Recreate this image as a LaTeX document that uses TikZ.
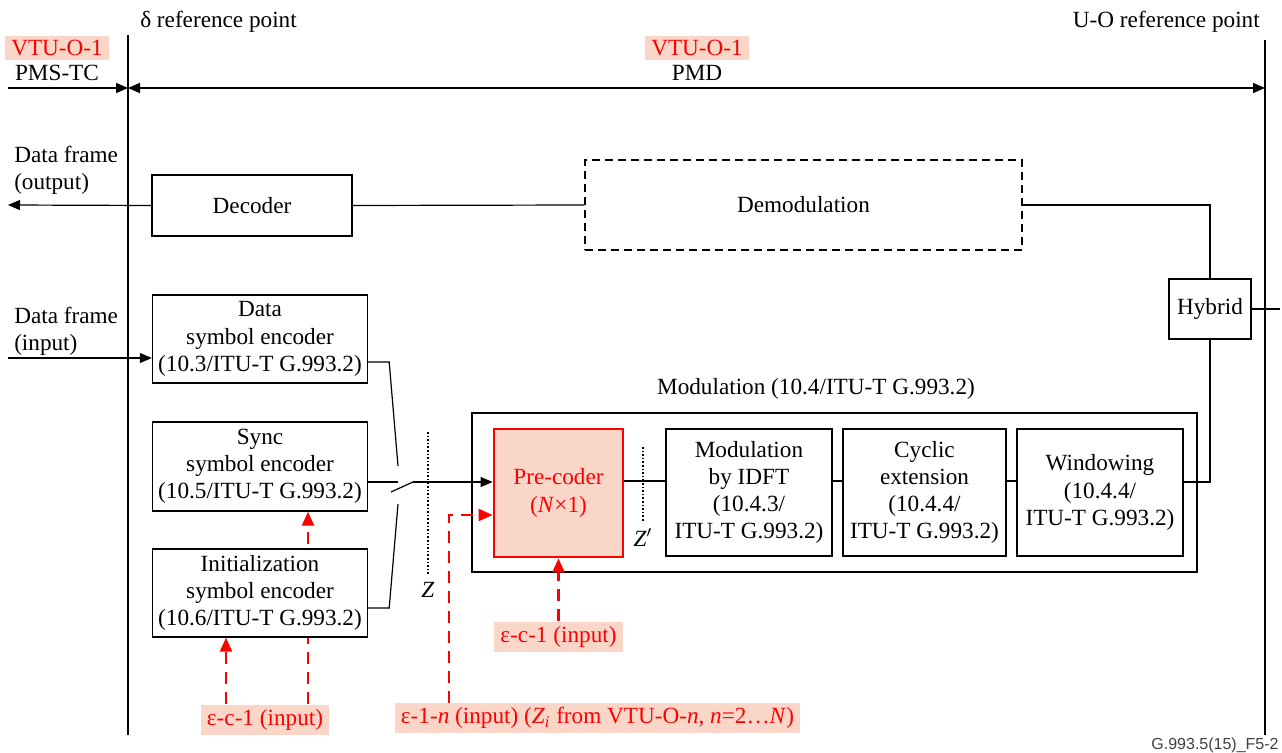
\documentclass[tikz,border=0pt]{standalone}
\usepackage{fontspec}
\setmainfont{Liberation Serif}
\newfontfamily\tagfont{Liberation Sans}
\usetikzlibrary{arrows.meta,positioning}
\pgfdeclarelayer{bg}
\pgfsetlayers{bg,main}
\definecolor{vtured}{RGB}{255,0,0}
\definecolor{vtupink}{RGB}{249,214,200}

\tikzset{
  blk/.style={draw,line width=0.7pt,fill=white,align=center,inner sep=0pt},
  redtag/.style={fill=vtupink,text=vtured,inner xsep=3pt,inner ysep=2.2pt},
  redarrow/.style={draw=vtured,line width=1.2pt,dash pattern=on 6pt off 4pt,
    -{Triangle[length=7pt,width=6pt]}},
  zline/.style={densely dotted,line width=0.8pt},
}

\begin{document}
\begin{tikzpicture}[x=0.5pt,y=-0.5pt,line width=0.6pt,
    font=\fontsize{11.6}{13.6}\selectfont,
    >={Triangle[length=6pt,width=5pt]}]
  \useasboundingbox (0,0) rectangle (1282,753);

  % reference points
  \coordinate (dtop) at (128,35);
  \coordinate (dbot) at (128,735);
  \coordinate (utop) at (1265,40);
  \coordinate (ubot) at (1265,735);
  \draw (dtop) -- (dbot);
  \draw (utop) -- (ubot);
  \node[anchor=west] (dref) at (133,22) {δ reference point};
  \node[anchor=east] (uref) at (1267,22) {U-O reference point};

  \node[redtag] (tctag) at (57,48) {VTU-O-1};
  \node (pmstc) at (57,73) {PMS-TC};
  \node[redtag] (pmdtag) at (697,48) {VTU-O-1};
  \node (pmd) at (697,73) {PMD};
  \coordinate (tl) at (8,88);
  \draw[->,line width=0.8pt] (tl) -- (dtop |- tl);
  \draw[<->,line width=0.8pt] (dtop |- tl) -- (utop |- tl);

  % receive path
  \node[blk,minimum width=100pt,minimum height=30.5pt] (dec) at (252,205.5) {Decoder};
  \node[blk,dash pattern=on 4pt off 2.5pt,minimum width=218.5pt,minimum height=45pt]
    (demod) at (803.5,205) {Demodulation};
  \node[blk,minimum width=41pt,minimum height=30pt] (hyb) at (1210,309) {Hybrid};
  \node[anchor=west,align=left] (outlbl) at (7,170.5) {Data frame\\(output)};
  \coordinate (outend) at (8,205);
  \draw[->] (dec.west) -- (outend);
  \draw (dec.east) -- (demod.west);
  \draw (demod.east) -| (hyb.north);
  \coordinate (uline) at (1280,309);
  \draw (hyb.east) -- (uline);

  % encoders
  \node[blk,minimum width=107.5pt,minimum height=44pt] (dse) at (260,339)
    {Data\\symbol encoder\\(10.3/ITU-T G.993.2)};
  \node[blk,minimum width=107.5pt,minimum height=44.5pt] (sse) at (260,466.5)
    {Sync\\symbol encoder\\(10.5/ITU-T G.993.2)};
  \node[blk,minimum width=107.5pt,minimum height=44pt] (ise) at (260,593)
    {Initialization\\symbol encoder\\(10.6/ITU-T G.993.2)};
  \node[anchor=west,align=left] (inlbl) at (7,331.5) {Data frame\\(input)};
  \coordinate (inend) at (8,358);
  \draw[->] (inend) -- (dse.west |- inend);

  % modulation
  \node[draw,line width=0.7pt,minimum width=362.5pt,minimum height=79.5pt] (modbox)
    at (834.5,492.5) {};
  \node (modlbl) at (816,389) {Modulation (10.4/ITU-T G.993.2)};
  \node[blk,draw=vtured,line width=1.4pt,fill=vtupink,text=vtured,
    minimum width=64.5pt,minimum height=64pt] (pre) at (558.5,493) {Pre-coder\\(\textit{N}×1)};
  \node[blk,minimum width=83pt,minimum height=63.5pt] (idft) at (749,492.5)
    {Modulation\\by IDFT\\(10.4.3/\\ITU-T G.993.2)};
  \node[blk,minimum width=81.5pt,minimum height=63.5pt] (cyc) at (924.5,492.5)
    {Cyclic\\extension\\(10.4.4/\\ITU-T G.993.2)};
  \node[blk,minimum width=83pt,minimum height=63.5pt] (win) at (1100,492.5)
    {Windowing\\(10.4.4/\\ITU-T G.993.2)};
  \coordinate (chain) at (0,481);
  \draw (pre.east |- chain) -- (idft.west |- chain);
  \draw (idft.east |- chain) -- (cyc.west |- chain);
  \draw (cyc.east |- chain) -- (win.west |- chain);
  \draw (win.east |- 0,482) -| (hyb.south);

  % switch
  \coordinate (dsw) at (398,466);
  \coordinate (isw) at (398,504);
  \coordinate (pivot) at (413,482);
  \coordinate (blade) at (391,492);
  \draw (dse.east |- 0,362) -- ++(21,0) -- (dsw);
  \draw (ise.east |- 0,608) -- ++(21,0) -- (isw);
  \draw (sse.east |- pivot) -- (dsw |- pivot);
  \draw (blade) -- (pivot);
  \draw[->] (pivot) -- (pre.west |- pivot);

  \draw[zline] (428,432) -- (428,575) node[below] (zlbl) {\textit{Z}};
  \draw[zline] (643,447) -- (643,521) node[below] (zplbl) {\textit{Z}$'$};

  % red inputs
  \node[redtag] (ecpre) at (558.5,637) {ε-c-1 (input)};
  \draw[redarrow] (ecpre.north) -- (pre.south);
  \node[redtag] (ecenc) at (265,720) {ε-c-1 (input)};
  \coordinate (ecl) at (226,0);
  \coordinate (ecr) at (308,0);
  \draw[redarrow] (ecenc.north -| ecl) -- (ise.south -| ecl);
  \begin{pgfonlayer}{bg}
    \draw[redarrow] (ecenc.north -| ecr) -- (sse.south -| ecr);
  \end{pgfonlayer}
  \node[redtag] (eone) at (597.5,718)
    {ε-1-\textit{n} (input) (\textit{Z}\textsubscript{\textit{i}} from VTU-O-\textit{n}, \textit{n}=2…\textit{N})};
  \coordinate (ebend) at (449,515);
  \draw[redarrow] (eone.north -| ebend) -- (ebend) -- (pre.west |- ebend);

  \node[anchor=east,inner sep=1pt,text=black!75,font=\tagfont\fontsize{8}{9}\selectfont]
    (figtag) at (1281,745) {G.993.5(15)\_F5-2};
\end{tikzpicture}
\end{document}
